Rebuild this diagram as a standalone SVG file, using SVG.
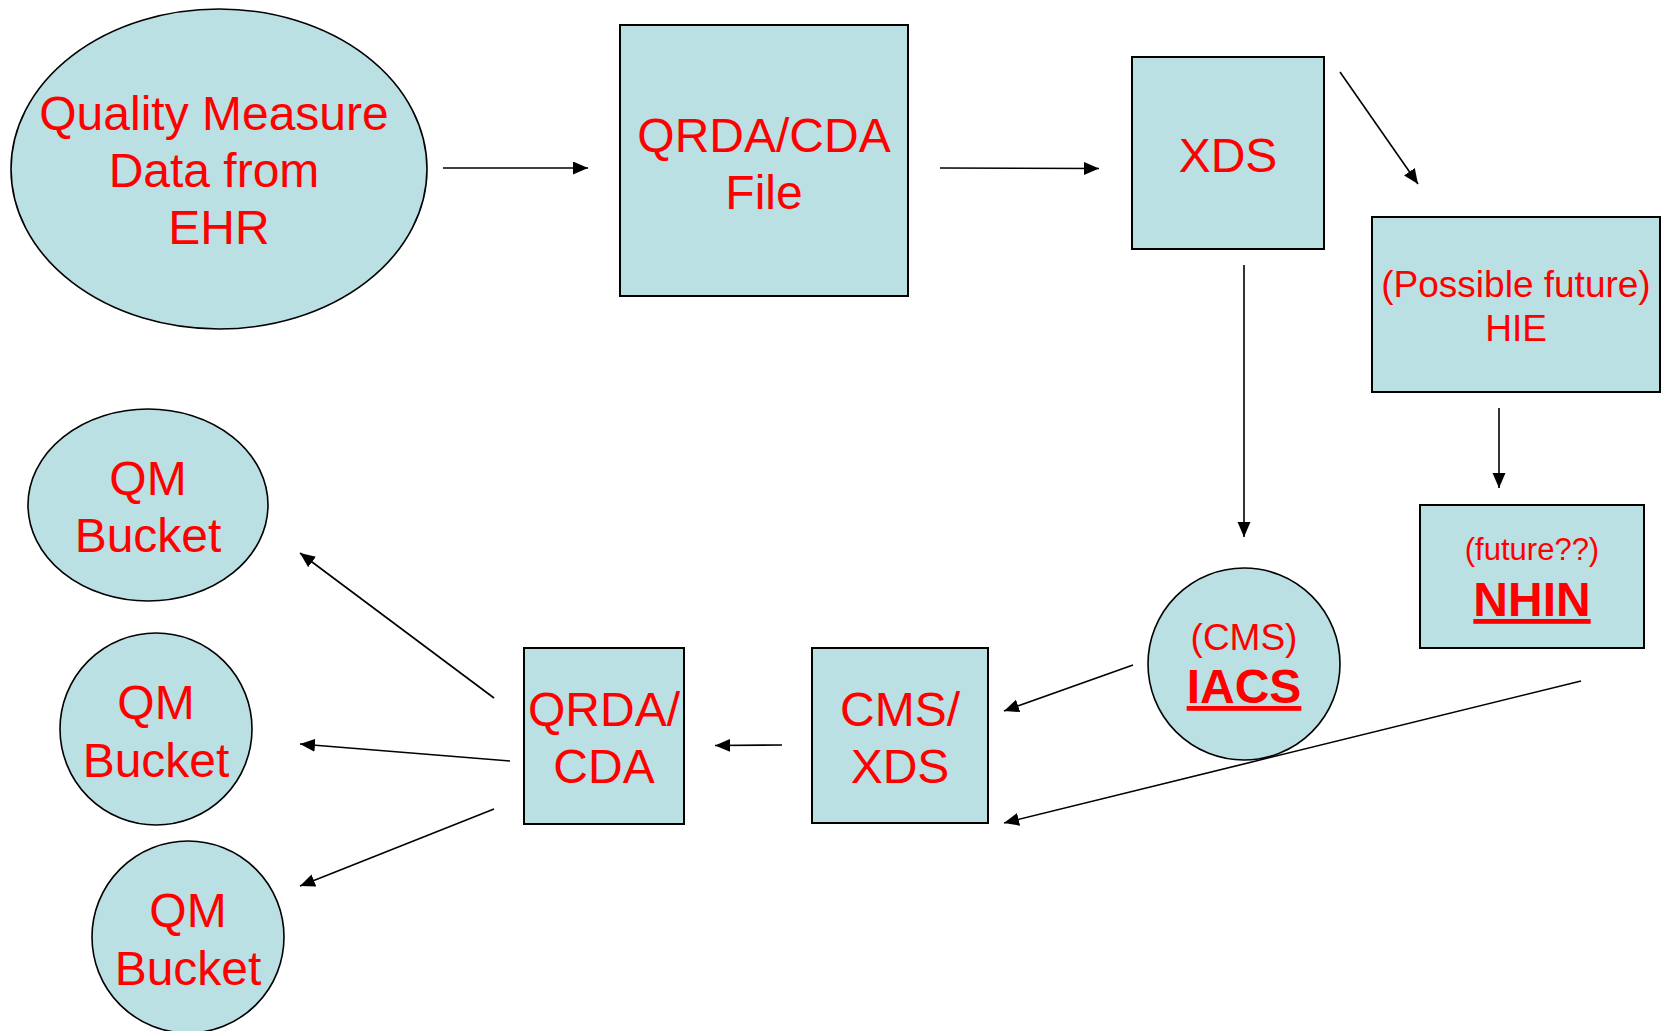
<svg xmlns="http://www.w3.org/2000/svg" width="1666" height="1031" viewBox="0 0 1666 1031">
<style>
.n{fill:#BBE0E3;stroke:#000;stroke-width:2}
.e{fill:#BBE0E3;stroke:#000;stroke-width:1.6}
.t{font-family:"Liberation Sans",Arial,sans-serif;fill:#FF0000;text-anchor:middle}
.c line{stroke:#000;stroke-width:1.6}
</style>
<defs>
<marker id="ah" markerUnits="userSpaceOnUse" markerWidth="16" markerHeight="14" refX="15" refY="6.5" orient="auto">
<path d="M0,0 L15,6.5 L0,13 z" fill="#000"/>
</marker>
</defs>
<rect width="1666" height="1031" fill="#fff"/>
<g id="ehr">
<ellipse class="e" cx="219" cy="169" rx="208" ry="160"/>
<text class="t" font-size="48"><tspan x="214" y="130">Quality Measure</tspan><tspan x="214" y="187">Data from</tspan><tspan x="219" y="244">EHR</tspan></text>
</g>
<g id="qrda-file">
<rect class="n" x="620" y="25" width="288" height="271"/>
<text class="t" font-size="48"><tspan x="764" y="152">QRDA/CDA</tspan><tspan x="764" y="209">File</tspan></text>
</g>
<g id="xds">
<rect class="n" x="1132" y="57" width="192" height="192"/>
<text class="t" font-size="48" x="1228" y="172">XDS</text>
</g>
<g id="hie">
<rect class="n" x="1372" y="217" width="288" height="175"/>
<text class="t" font-size="37"><tspan x="1516" y="297">(Possible future)</tspan><tspan x="1516" y="341">HIE</tspan></text>
</g>
<g id="nhin">
<rect class="n" x="1420" y="505" width="224" height="143"/>
<text class="t" font-size="31" x="1532" y="560">(future??)</text>
<text class="t" font-size="48" font-weight="bold" text-decoration="underline" x="1532" y="616">NHIN</text>
</g>
<g id="iacs">
<ellipse class="e" cx="1244" cy="664" rx="96" ry="96"/>
<text class="t" font-size="37" x="1244" y="650">(CMS)</text>
<text class="t" font-size="48" font-weight="bold" text-decoration="underline" x="1244" y="703">IACS</text>
</g>
<g id="cms-xds">
<rect class="n" x="812" y="648" width="176" height="175"/>
<text class="t" font-size="48"><tspan x="900" y="726">CMS/</tspan><tspan x="900" y="783">XDS</tspan></text>
</g>
<g id="qrda-cda">
<rect class="n" x="524" y="648" width="160" height="176"/>
<text class="t" font-size="48"><tspan x="604" y="726">QRDA/</tspan><tspan x="604" y="783">CDA</tspan></text>
</g>
<g id="bucket1">
<ellipse class="e" cx="148" cy="505" rx="120" ry="96"/>
<text class="t" font-size="48"><tspan x="148" y="495">QM</tspan><tspan x="148" y="552">Bucket</tspan></text>
</g>
<g id="bucket2">
<ellipse class="e" cx="156" cy="729" rx="96" ry="96"/>
<text class="t" font-size="48"><tspan x="156" y="719">QM</tspan><tspan x="156" y="777">Bucket</tspan></text>
</g>
<g id="bucket3">
<ellipse class="e" cx="188" cy="937" rx="96" ry="96"/>
<text class="t" font-size="48"><tspan x="188" y="927">QM</tspan><tspan x="188" y="985">Bucket</tspan></text>
</g>
<g class="c" id="connectors">
<line x1="443" y1="168" x2="588" y2="168" marker-end="url(#ah)"/>
<line x1="940" y1="168" x2="1099" y2="168.5" marker-end="url(#ah)"/>
<line x1="1340" y1="72" x2="1418" y2="184" marker-end="url(#ah)"/>
<line x1="1499" y1="408" x2="1499" y2="488" marker-end="url(#ah)"/>
<line x1="1244" y1="265" x2="1244" y2="537" marker-end="url(#ah)"/>
<line x1="1133" y1="665" x2="1004" y2="711" marker-end="url(#ah)"/>
<line x1="1581" y1="681" x2="1004" y2="823" marker-end="url(#ah)"/>
<line x1="782" y1="745" x2="715" y2="745.5" marker-end="url(#ah)"/>
<line x1="494" y1="698" x2="300" y2="553" marker-end="url(#ah)"/>
<line x1="510" y1="761" x2="300" y2="744" marker-end="url(#ah)"/>
<line x1="494" y1="809" x2="300" y2="886" marker-end="url(#ah)"/>
</g>
</svg>
